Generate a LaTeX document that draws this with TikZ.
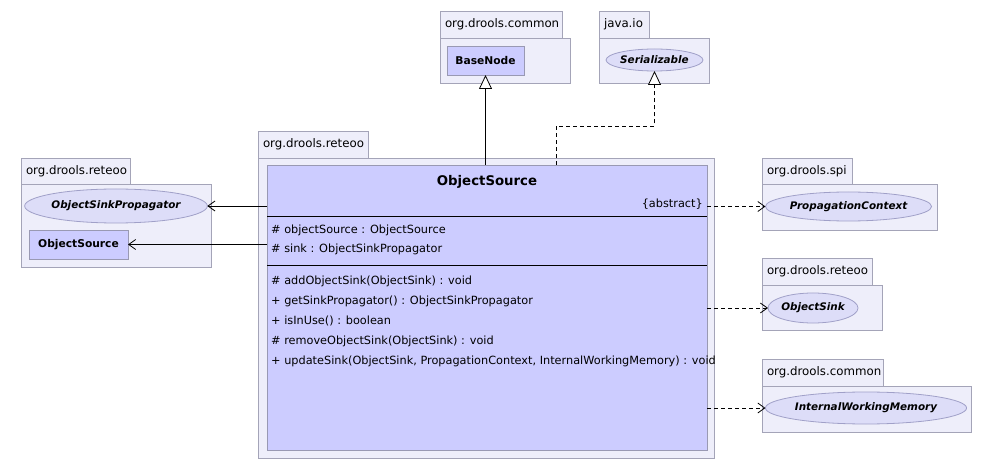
\documentclass[tikz,border=0pt]{standalone}
\usepackage{fontspec}
\setmainfont{DejaVu Sans}
\usetikzlibrary{arrows.meta,shapes.geometric}
\definecolor{pkgfill}{HTML}{EEEEFA}
\definecolor{pkgdraw}{HTML}{A4A4B8}
\definecolor{clsfill}{HTML}{CCCCFF}
\definecolor{clsdraw}{HTML}{9999B3}
\definecolor{ifill}{HTML}{DDDDF8}
\definecolor{idraw}{HTML}{A0A0C8}
\begin{document}
\begin{tikzpicture}[x=1pt,y=-1pt,
  font=\fontsize{11.8}{14}\selectfont,
  box/.style={draw=pkgdraw,fill=pkgfill,line width=0.8pt,anchor=north west,inner sep=0pt,outer sep=0pt},
  tab/.style={box,align=left,inner xsep=5pt,inner ysep=0pt},
  cls/.style={draw=clsdraw,fill=clsfill,line width=0.8pt,inner sep=0pt,outer sep=0pt,anchor=north west,font=\fontsize{10.7}{12}\selectfont\bfseries},
  ifc/.style={ellipse,draw=idraw,fill=ifill,line width=0.8pt,inner sep=0pt,outer sep=0pt,font=\fontsize{10.4}{12}\selectfont\bfseries\itshape},
  mem/.style={anchor=west,inner sep=0pt,font=\fontsize{11.3}{13}\selectfont},
  assoc/.style={-{Straight Barb[length=7pt,width=10pt]},line width=0.8pt},
  dep/.style={assoc,dash pattern=on 4pt off 3pt},
  gen/.style={-{Triangle[open,length=14pt,width=13pt,fill=white]},line width=0.8pt},
  ]
\fill[white] (0,0) rectangle (993,470);
\useasboundingbox (0,0) rectangle (993,470);

% top: org.drools.common
\node[tab,text width=112,minimum height=27] (pcomT) at (440,11) {org.drools.common};
\node[box,minimum width=130,minimum height=45] (pcom) at (440,38) {};
\node[cls,minimum width=77,minimum height=29] (base) at (447,46) {BaseNode};

% top: java.io
\node[tab,text width=40,minimum height=27] (pjT) at (599,11) {java.io};
\node[box,minimum width=110,minimum height=45] (pj) at (599,38) {};
\node[ifc,minimum width=95,minimum height=22] (ser) at (654.5,60) {Serializable};

% main package
\node[tab,text width=100,minimum height=27] (pmT) at (258,131) {org.drools.reteoo};
\node[box,minimum width=456,minimum height=300] (pm) at (258,158) {};
\node[draw=clsdraw,fill=clsfill,line width=0.8pt,inner sep=0pt,outer sep=0pt,anchor=north west,minimum width=440,minimum height=285] (os) at (267,165) {};
\node[font=\fontsize{13.3}{15}\selectfont\bfseries] (osname) at (487,182) {ObjectSource};
\node[mem,anchor=east] (abs) at (703,204) {\{abstract\}};
\draw[line width=0.8pt] (267,216) -- (707,216);
\draw[line width=0.8pt] (267,265.5) -- (707,265.5);
\node[mem] (a1) at (271,230) {\# objectSource : ObjectSource};
\node[mem] (a2) at (271,249) {\# sink : ObjectSinkPropagator};
\node[mem] (m1) at (271,281) {\# addObjectSink(ObjectSink) : void};
\node[mem] (m2) at (271,301) {+ getSinkPropagator() : ObjectSinkPropagator};
\node[mem] (m3) at (271,321) {+ isInUse() : boolean};
\node[mem] (m4) at (271,341) {\# removeObjectSink(ObjectSink) : void};
\node[mem] (m5) at (271,361) {+ updateSink(ObjectSink, PropagationContext, InternalWorkingMemory) : void};

% left package
\node[tab,text width=99,minimum height=26] (plT) at (21,158) {org.drools.reteoo};
\node[box,minimum width=190,minimum height=83] (pl) at (21,184) {};
\node[ifc,minimum width=174,minimum height=34] (osp) at (116,206) {ObjectSinkPropagator};
\node[cls,minimum width=99,minimum height=29] (os2) at (29,230) {ObjectSource};

% right packages
\node[tab,text width=80,minimum height=26] (psT) at (762,158) {org.drools.spi};
\node[box,minimum width=175,minimum height=46] (ps) at (762,184) {};
\node[ifc,minimum width=161,minimum height=29] (pctx) at (848.5,206.5) {PropagationContext};

\node[tab,text width=100,minimum height=27] (prT) at (762,258) {org.drools.reteoo};
\node[box,minimum width=120,minimum height=45] (pr) at (762,285) {};
\node[ifc,minimum width=90,minimum height=30] (sink) at (813,308) {ObjectSink};

\node[tab,text width=111,minimum height=27] (pcmT) at (762,359) {org.drools.common};
\node[box,minimum width=209,minimum height=46] (pcm) at (762,386) {};
\node[ifc,minimum width=196,minimum height=32] (iwm) at (866,408) {InternalWorkingMemory};

% connectors
\draw[gen] (os.north -| base.south) -- (base.south);
\coordinate (bend) at (556,126);
\draw[gen,dash pattern=on 4pt off 3pt] (os.north -| bend) -- (bend) -| (ser.south);
\draw[assoc] (os.west |- osp.east) -- (osp.east);
\draw[assoc] (os.west |- os2.east) -- (os2.east);
\draw[dep] (os.east |- pctx.west) -- (pctx.west);
\draw[dep] (os.east |- sink.west) -- (sink.west);
\draw[dep] (os.east |- iwm.west) -- (iwm.west);
\end{tikzpicture}
\end{document}
